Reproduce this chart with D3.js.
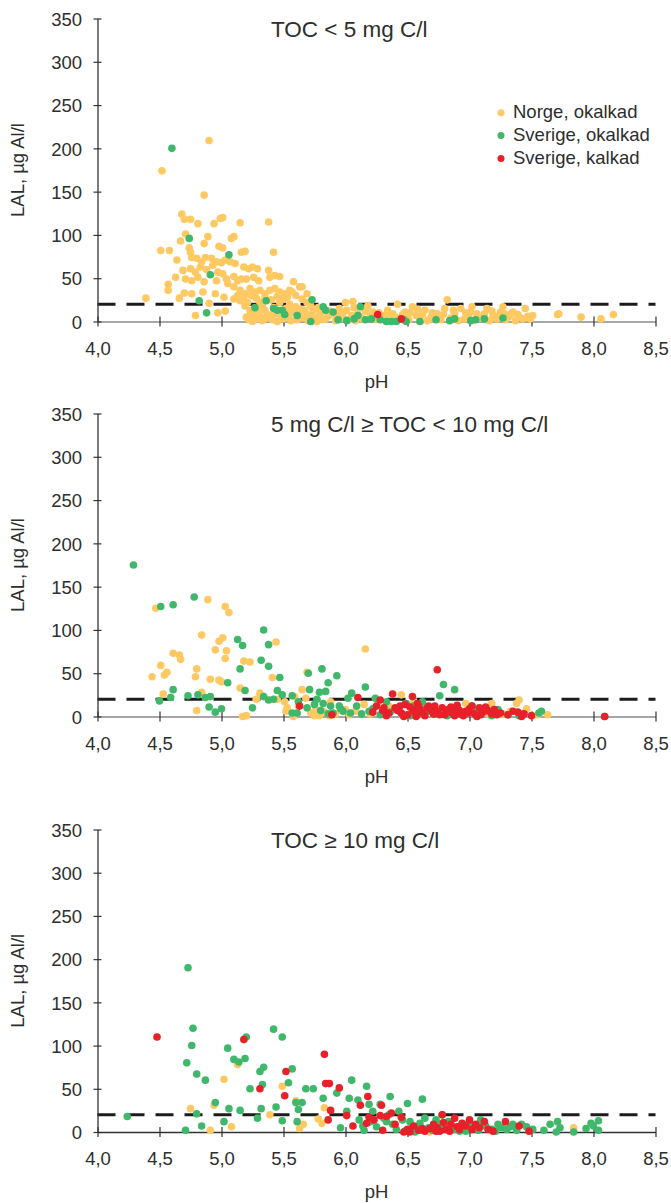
<!DOCTYPE html>
<html>
<head>
<meta charset="utf-8">
<script src="https://cdn.jsdelivr.net/npm/d3@7"></script>
<style>
  html, body { margin: 0; padding: 0; background: #fff; }
  svg { display: block; font-family: "Liberation Sans", Arial, Helvetica, sans-serif; }
</style>
</head>
<body>
<svg id="chart" width="671" height="1203"></svg>
<script>
// Axis ticks and labels (pH uses decimal comma)
const xTicks = [4.0, 4.5, 5.0, 5.5, 6.0, 6.5, 7.0, 7.5, 8.0, 8.5];
const xTickLabels = ["4,0", "4,5", "5,0", "5,5", "6,0", "6,5", "7,0", "7,5", "8,0", "8,5"];
const yTicks = [0, 50, 100, 150, 200, 250, 300, 350];
const threshold = 20; // LAL reference level, µg Al/l

const seriesNames = ["Norge, okalkad", "Sverige, okalkad", "Sverige, kalkad"];
const panelTitles = ["TOC < 5 mg C/l", "5 mg C/l \u2265 TOC < 10 mg C/l", "TOC \u2265 10 mg C/l"];

// Panel 1: TOC < 5 mg C/l   — [pH, LAL]
const p1Norge = [
  [4.90,209],[4.52,174],[4.86,146],[4.68,124],[4.70,118],[4.75,118],[4.81,113],[4.94,113],[4.99,119],[5.01,120],[5.15,114],[5.38,115],
  [4.71,101],[4.67,93],[4.74,85],[4.75,80],[4.89,98],[4.86,90],[4.98,87],[5.01,85],[5.08,96],[5.10,98],[5.16,80],[5.19,81],[5.42,80],
  [4.51,82],[4.58,82],[4.64,71],[4.69,59],[4.63,51],[4.57,43],[4.57,36],[4.66,27],[4.70,33],[4.39,27],
  [4.76,74],[4.80,73],[4.84,69],[4.87,74],[4.92,73],[4.96,69],[5.00,68],[5.03,71],[5.07,69],[5.11,67],
  [4.75,61],[4.79,57],[4.83,63],[4.88,60],[4.93,65],[4.97,57],[5.01,55],
  [4.71,49],[4.76,47],[4.81,51],[4.86,46],[4.96,47],[5.04,49],[5.10,52],[5.13,47],
  [5.18,63],[5.22,61],[5.25,63],[5.29,61],[5.16,49],[5.20,49],[5.26,51],[5.30,47],[5.38,59],[5.39,51],[5.43,53],[5.47,52],
  [4.76,32],[4.85,34],[4.95,32],[5.02,28],[4.90,21],[4.79,7],[4.97,10],[5.03,12],
  [5.05,44],[5.10,40],[5.15,36],[5.19,32],[5.23,38],[5.27,34],[5.31,36],[5.35,32],[5.39,36],[5.43,38],[5.47,34],[5.51,32],[5.55,36],[5.58,46],[5.63,40],[5.69,32],
  [5.15,24],[5.19,18],[5.23,13],[5.27,9],[5.31,5],[5.35,13],[5.39,7],[5.44,9],[5.20,5],[5.31,22],[5.47,22],[5.55,20],[5.58,13],[5.63,9],[5.67,13],
  [5.65,40],[5.57,34],[5.60,30],[5.65,26],[5.69,22],[5.74,13],[5.79,7],[5.84,3],[5.89,9],[5.95,15],[6.00,22],[6.06,23],[6.01,13],[6.05,7],
  [6.12,5],[6.18,18],[6.22,11],[6.29,7],[6.34,13],[6.40,5],[6.42,20],[6.48,11],[6.54,17],[6.57,7],[6.64,13],[6.69,5],[6.74,9],[6.80,15],
  [6.82,25],[6.88,9],[6.93,15],[6.99,7],[7.02,17],[7.06,9],[7.11,5],[7.14,15],[7.19,7],[7.25,11],[7.27,17],[7.31,5],[7.35,11],[7.40,5],
  [7.45,15],[7.49,3],[7.51,7],[7.71,8],[7.72,9],[7.90,5],[8.06,3],[8.16,8],
  [5.22,2],[5.25,0],[5.28,3],[5.33,1],[5.36,4],[5.41,2],[5.45,0],[5.50,3],[5.53,6],[5.56,1],[5.61,2],[5.66,4],[5.70,1],[5.75,5],[5.77,0],
  [5.82,2],[5.86,6],[5.92,1],[5.97,4],[6.03,2],[6.08,1],[6.14,3],[6.20,6],[6.25,2],[6.31,4],[6.36,1],[6.44,3],[6.46,8],[6.51,2],[6.60,4],
  [6.66,1],[6.71,3],[6.77,2],[6.85,4],[6.91,1],[6.96,3],[7.04,2],[7.09,4],[7.16,1],[7.22,3],[7.29,2],[7.37,1],[7.43,3],[7.47,6],
  [5.35,27],[5.40,25],[5.45,29],[5.50,26],[5.53,28],[5.28,27],[5.24,30],[5.18,28],[5.13,30],[5.10,26],[5.21,22],[5.33,18],[5.42,16],
  [5.52,15],[5.60,17],[5.72,18],[5.78,16],[5.87,12],[5.98,10],[6.10,9],[6.16,12],[6.27,10],[6.38,9],[6.52,10],[6.62,8],[6.79,8],[6.97,10],
  [7.12,9],[7.21,6],[7.33,8],[5.57,10],[5.62,6],[5.68,9],[5.73,3],[5.80,10],
  [5.24,8],[5.30,11],[5.37,8],[5.48,6],[5.54,11],[5.64,14],[5.71,7],[5.93,7],[6.07,16],[6.23,4],[6.33,8],[6.49,5],[6.58,14],[6.70,10],
  [6.87,13],[7.01,11],[7.18,12],[7.28,9],[7.39,8]
];
const p1SeOkalk = [
  [4.60,200],[4.74,96],[5.06,77],[4.91,54],[4.82,24],[4.88,10],[5.27,16],[5.36,24],[5.42,15],[5.45,13],[5.49,13],[5.51,8],[5.61,7],
  [5.72,0],[5.73,25],[5.82,17],[5.84,13],[5.90,11],[5.94,2],[6.01,1],[6.07,3],[6.10,7],[6.12,17],[6.16,2],[6.21,3],[6.28,2],[6.33,0],
  [6.37,0],[6.41,0],[6.47,2],[6.49,0],[6.60,0],[6.73,2],[6.84,1],[6.88,3],[7.01,1],[7.05,2],[7.12,3],[7.27,4]
];
const p1SeKalk = [[6.26,8],[6.45,3]];

// Panel 2: 5 mg C/l ≥ TOC < 10 mg C/l
const p2Norge = [
  [4.47,125],[4.89,135],[5.03,127],[5.06,120],[4.84,94],[5.01,91],[4.98,87],[5.44,86],[6.16,78],[4.61,73],[4.66,71],[4.67,66],
  [4.95,77],[5.04,76],[5.03,67],[5.18,64],[5.23,63],[4.51,59],[4.56,51],[4.54,48],[4.44,46],[4.80,55],[4.79,46],[4.91,43],
  [4.98,42],[5.00,40],[5.41,45],[5.69,51],[5.15,33],[5.31,27],[4.53,26],[4.84,28],[5.28,20],[4.80,7],[5.17,0],[5.20,1],
  [5.51,17],[5.53,10],[5.52,6],[5.59,23],[5.65,31],[5.68,21],[5.72,4],[5.75,1],[5.79,1],[5.87,1],[5.88,17],[6.00,8],[6.03,2],
  [6.15,14],[6.26,15],[6.45,25],[6.55,17],[6.97,15],[7.18,15],[7.38,15],[7.40,19],[7.46,9],[7.33,6],[7.63,2],[7.02,4],[7.16,2],
  [5.62,12],[5.76,8],[5.83,5],[5.92,3],[6.08,6],[6.20,3],[6.35,12],[6.62,6],[6.90,5],[7.27,3],[7.44,4],[7.55,2],[5.45,20],[5.58,0]
];
const p2SeOkalk = [
  [4.29,175],[4.51,127],[4.61,129],[4.78,138],[5.34,100],[5.13,89],[5.17,82],[5.38,83],[5.32,65],[5.38,58],[5.15,55],[5.47,45],
  [5.05,39],[4.61,31],[4.73,24],[4.81,25],[4.87,22],[4.91,23],[4.59,22],[4.50,18],[4.90,11],[5.00,9],[4.95,5],[5.19,30],[5.25,10],
  [5.34,23],[5.38,19],[5.42,20],[5.45,30],[5.49,25],[5.57,24],[5.57,4],[5.61,4],[5.62,17],[5.70,50],[5.71,31],[5.69,10],[5.81,55],
  [5.79,28],[5.84,29],[5.86,39],[5.82,15],[5.88,12],[5.93,47],[5.95,12],[5.98,6],[6.02,21],[6.05,27],[6.09,12],[6.16,34],[6.19,6],
  [6.24,21],[6.33,17],[6.40,8],[6.49,15],[6.55,12],[6.62,17],[6.67,6],[6.76,24],[6.79,37],[6.88,31],[6.85,10],[7.02,12],[7.23,8],
  [7.31,2],[7.56,4],[7.58,6],[8.09,0],[5.77,20],[5.90,4],[6.13,3],[6.28,2],[6.45,4],[6.58,2],[6.72,3],[6.95,2],[7.10,5],[7.40,1],
  [5.75,14],[5.80,7],[5.86,3],[5.96,9],[6.04,4],[6.22,9],[6.36,5],[6.52,1],[6.64,9],[6.82,1],[7.06,7],[7.18,1]
];
const p2SeKalk = [
  [5.63,12],[5.89,2],[6.10,22],[6.22,5],[6.28,19],[6.31,10],[6.38,26],[6.40,10],[6.45,4],[6.48,14],[6.54,23],[6.54,8],[6.59,12],
  [6.62,4],[6.66,10],[6.71,3],[6.74,54],[6.74,6],[6.80,2],[6.83,8],[6.86,4],[6.90,10],[6.93,3],[6.97,6],[7.00,9],[7.04,3],[7.08,10],
  [7.11,5],[7.14,8],[7.18,3],[7.31,2],[7.39,5],[7.42,0],[7.50,1],[8.09,0],[6.35,4],[6.44,12],[6.50,2],[6.67,12],[6.78,10],[6.57,0],
  [6.88,1],[7.06,0],[7.22,2],
  [6.25,12],[6.33,1],[6.42,7],[6.47,0],[6.52,11],[6.56,5],[6.60,8],[6.64,1],[6.69,7],[6.72,12],[6.76,2],[6.81,5],[6.85,11],[6.88,6],
  [6.92,7],[6.95,1],[6.99,4],[7.02,12],[7.09,2],[7.13,11],[7.16,6],[7.20,8],[7.25,4],[7.35,6],[7.44,3],[6.30,7],[6.58,15],[6.90,13]
];

// Panel 3: TOC ≥ 10 mg C/l
const p3Norge = [
  [4.75,27],[5.02,61],[5.13,78],[4.94,31],[4.91,2],[5.08,6],[5.39,20],[5.49,53],[5.63,4],[5.66,9],[5.78,15],[5.81,10],[5.83,28],
  [5.60,36],[6.68,0],[7.84,5]
];
const p3SeOkalk = [
  [4.24,18],[4.73,190],[4.77,120],[4.76,100],[4.72,80],[4.80,67],[4.87,60],[4.95,34],[4.71,2],[4.84,7],[4.80,21],[5.05,97],[5.10,84],
  [5.14,81],[5.19,85],[5.20,110],[5.23,50],[5.31,70],[5.34,75],[5.33,55],[5.32,27],[5.29,16],[5.06,27],[5.15,25],[5.02,12],[5.42,119],
  [5.49,110],[5.44,29],[5.49,13],[5.54,57],[5.57,73],[5.60,34],[5.62,26],[5.61,12],[5.65,34],[5.68,50],[5.74,50],[5.82,39],[5.93,45],
  [5.96,5],[6.01,24],[6.03,39],[6.05,60],[6.10,37],[6.11,14],[6.15,2],[6.17,53],[6.19,32],[6.22,24],[6.28,32],[6.31,16],[6.36,41],
  [6.38,9],[6.43,24],[6.50,33],[6.54,7],[6.62,38],[6.64,16],[6.67,5],[6.74,10],[6.78,20],[6.83,12],[6.88,3],[6.95,9],[7.04,5],
  [7.09,14],[7.18,3],[7.23,9],[7.30,3],[7.35,9],[7.42,9],[7.51,3],[7.60,2],[7.65,9],[7.71,12],[7.73,5],[7.70,0],[7.84,0],[7.94,4],
  [7.98,10],[8.00,7],[8.04,13],[8.04,2],[6.25,6],[6.33,12],[6.41,3],[6.46,14],[6.57,4],[6.60,10],[6.70,2],[6.76,7],[6.86,6],[6.92,1],
  [7.00,10],[7.07,2],[7.13,7],[7.26,5],[7.38,2],[7.46,6],[6.48,1],[6.56,0],
  [6.20,12],[6.14,7],[6.35,20],[6.52,12],[6.62,2],[6.73,14],[6.80,4],[6.97,1],[7.11,9],[7.21,1],[7.33,6]
];
const p3SeKalk = [
  [4.48,110],[5.18,107],[5.31,50],[5.51,42],[5.52,70],[5.83,90],[5.84,56],[5.87,56],[5.95,51],[5.86,14],[5.88,25],[6.01,19],[6.06,7],
  [6.12,31],[6.18,41],[6.17,10],[6.19,17],[6.23,14],[6.29,31],[6.30,2],[6.28,19],[6.33,18],[6.37,22],[6.45,17],[6.40,9],[6.47,0],
  [6.50,3],[6.55,7],[6.59,2],[6.64,1],[6.71,9],[6.74,5],[6.78,20],[6.81,3],[6.85,9],[6.88,16],[6.92,3],[6.97,7],[7.00,14],[7.02,3],
  [7.12,12],[7.19,1],[7.29,12],[7.40,7],[7.48,1],[6.76,1],[6.90,6],[7.05,9],[6.68,4],
  [6.52,0],[6.62,4],[6.73,1],[6.79,11],[6.84,1],[6.94,10],[7.08,5],[7.15,3]
];

const colors = ["#fec962", "#3fb86b", "#e8202a"];

const svg = d3.select("#chart");
svg.append("rect").attr("width", 671).attr("height", 1203).attr("fill", "#fff");

const xRange = [97.5, 655.5];
const panels = [
  { top: 18.5, bottom: 321.5, series: [p1Norge, p1SeOkalk, p1SeKalk], title: panelTitles[0], axisGrey: true, legend: true },
  { top: 413.5, bottom: 716.5, series: [p2Norge, p2SeOkalk, p2SeKalk], title: panelTitles[1], axisGrey: true, legend: false },
  { top: 829.5, bottom: 1132, series: [p3Norge, p3SeOkalk, p3SeKalk], title: panelTitles[2], axisGrey: false, legend: false }
];

const textColor = "#2e2e2e";
const fontSize = 18.5;
const dotR = 3.8;

panels.forEach(p => {
  const x = d3.scaleLinear().domain([4, 8.5]).range(xRange);
  const y = d3.scaleLinear().domain([0, 350]).range([p.bottom, p.top]);
  const g = svg.append("g");

  // threshold line at 20 µg Al/l
  g.append("line")
    .attr("x1", x(4)).attr("x2", x(8.5))
    .attr("y1", y(threshold)).attr("y2", y(threshold))
    .attr("stroke", "#1c1c1c").attr("stroke-width", 3)
    .attr("stroke-dasharray", "18,11");

  // x axis
  const xa = g.append("g")
    .attr("transform", `translate(0,${y(0)})`)
    .call(d3.axisBottom(x).tickValues(xTicks).tickFormat((d, i) => xTickLabels[i]).tickSize(5).tickSizeOuter(0));
  xa.select(".domain").attr("stroke", p.axisGrey ? "#8a8a8a" : "#333").attr("stroke-width", 1.3);
  xa.selectAll(".tick line").attr("y1", -5).attr("y2", 5).attr("stroke", "#333").attr("stroke-width", 1.2);
  xa.selectAll(".tick text").attr("y", 33).attr("dy", 0)
    .attr("fill", textColor).style("font-size", fontSize + "px")
    .style("font-family", "'Liberation Sans', Arial, sans-serif");

  // y axis
  const ya = g.append("g")
    .attr("transform", `translate(${x(4)},0)`)
    .call(d3.axisLeft(y).tickValues(yTicks).tickSize(4).tickSizeOuter(0));
  ya.select(".domain").attr("stroke", "#333").attr("stroke-width", 1.3);
  ya.selectAll(".tick line").attr("x1", 4).attr("x2", -4).attr("stroke", "#333").attr("stroke-width", 1.2);
  ya.selectAll(".tick text").attr("x", -15.5).attr("dy", "0.36em")
    .attr("fill", textColor).style("font-size", fontSize + "px")
    .style("font-family", "'Liberation Sans', Arial, sans-serif");

  // data points: Norge, Sverige okalkad, Sverige kalkad (drawn in that order)
  p.series.forEach((data, si) => {
    g.append("g").selectAll("circle")
      .data(data)
      .join("circle")
      .attr("cx", d => x(d[0]))
      .attr("cy", d => y(d[1]))
      .attr("r", dotR)
      .attr("fill", colors[si]);
  });

  // panel title
  g.append("text")
    .attr("x", 271).attr("y", y(350) + 18)
    .attr("fill", textColor).style("font-size", "22.5px")
    .text(p.title);

  // axis titles
  g.append("text")
    .attr("transform", `translate(24,${(y(0) + y(350)) / 2}) rotate(-90)`)
    .attr("text-anchor", "middle")
    .attr("fill", textColor).style("font-size", fontSize + "px")
    .text("LAL, \u00b5g Al/l");

  g.append("text")
    .attr("x", (xRange[0] + xRange[1]) / 2).attr("y", y(0) + 66)
    .attr("text-anchor", "middle")
    .attr("fill", textColor).style("font-size", fontSize + "px")
    .text("pH");

  if (p.legend) {
    const lg = g.append("g");
    seriesNames.forEach((name, i) => {
      const base = 118.3 + i * 22.8;
      lg.append("circle").attr("cx", 501).attr("cy", base - 5.5).attr("r", 3.5).attr("fill", colors[i]);
      lg.append("text").attr("x", 513).attr("y", base)
        .attr("fill", textColor).style("font-size", fontSize + "px")
        .text(name);
    });
  }
});
</script>
</body>
</html>
